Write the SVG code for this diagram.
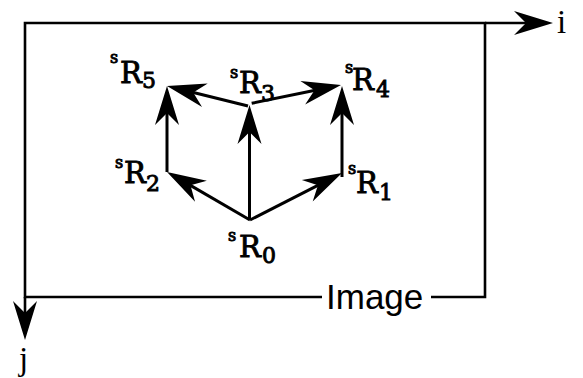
<svg xmlns="http://www.w3.org/2000/svg" xmlns:xlink="http://www.w3.org/1999/xlink" width="583" height="378" viewBox="0 0 583 378">
<style>
  .fr { stroke: #000; stroke-width: 2.6; fill: none; }
  .ln { stroke: #000; stroke-width: 3; fill: none; }
  .hd { fill: #000; stroke: none; }
  .lab { font-family: "DejaVu Serif", "Liberation Serif", serif; fill: #000; stroke: #000; stroke-width: 0.9; }
  .s { font-size: 16px; }
  .R { font-size: 29px; }
  .d { font-size: 22px; }
  .axis { font-family: "Liberation Serif", serif; font-size: 33px; fill: #000; }
  .img { font-family: "Liberation Sans", Arial, sans-serif; font-size: 35px; fill: #000; }
</style>
<defs>
  <path id="head" d="M0,0 L-39,-12 L-27,0 L-39,12 Z"/>
</defs>

<g id="frame">
  <path class="fr" d="M322,297 L25,297 L25,23 L485,23 L485,297 L431,297"/>
  <text class="img" x="326" y="309">Image</text>
</g>

<g id="axes">
  <line class="fr" x1="485" y1="23" x2="530" y2="23"/>
  <use xlink:href="#head" href="#head" class="hd" transform="translate(553,23)"/>
  <line class="fr" x1="25" y1="297" x2="25" y2="318"/>
  <use xlink:href="#head" href="#head" class="hd" transform="translate(25,340) rotate(90)"/>
  <text id="axis-i" class="axis" x="557" y="33">i</text>
  <text id="axis-j" class="axis" x="19" y="370">j</text>
</g>

<g id="connectors">
  <line class="ln" x1="250" y1="220" x2="184.4" y2="181.9"/>
  <use xlink:href="#head" href="#head" class="hd" transform="translate(167,172) rotate(209.5)"/>
  <line class="ln" x1="249.5" y1="220" x2="249.5" y2="125"/>
  <use xlink:href="#head" href="#head" class="hd" transform="translate(249.5,105) rotate(-90)"/>
  <line class="ln" x1="250" y1="220" x2="324.2" y2="182.1"/>
  <use xlink:href="#head" href="#head" class="hd" transform="translate(342,173) rotate(-27)"/>
  <line class="ln" x1="167" y1="172" x2="167" y2="106"/>
  <use xlink:href="#head" href="#head" class="hd" transform="translate(167,86) rotate(-90)"/>
  <line class="ln" x1="248" y1="106" x2="186.4" y2="90.7"/>
  <use xlink:href="#head" href="#head" class="hd" transform="translate(167,86) rotate(193.7)"/>
  <line class="ln" x1="251.7" y1="103.3" x2="321.4" y2="89"/>
  <use xlink:href="#head" href="#head" class="hd" transform="translate(341,85) rotate(-11.4)"/>
  <line class="ln" x1="342" y1="177" x2="342" y2="106"/>
  <use xlink:href="#head" href="#head" class="hd" transform="translate(342,86) rotate(-90)"/>
</g>

<g id="R0"><text class="lab"><tspan class="s" x="228" y="241">s</tspan><tspan class="R" x="239" y="257">R</tspan><tspan class="d" x="262" y="263">0</tspan></text></g>
<g id="R1"><text class="lab"><tspan class="s" x="348" y="174">s</tspan><tspan class="R" x="356" y="193">R</tspan><tspan class="d" x="379" y="200">1</tspan></text></g>
<g id="R2"><text class="lab"><tspan class="s" x="115" y="168">s</tspan><tspan class="R" x="124" y="183">R</tspan><tspan class="d" x="146" y="191">2</tspan></text></g>
<g id="R3"><text class="lab"><tspan class="s" x="230" y="78">s</tspan><tspan class="R" x="239" y="93">R</tspan><tspan class="d" x="261" y="101">3</tspan></text></g>
<g id="R4"><text class="lab"><tspan class="s" x="345" y="73">s</tspan><tspan class="R" x="352" y="90">R</tspan><tspan class="d" x="376" y="97">4</tspan></text></g>
<g id="R5"><text class="lab"><tspan class="s" x="110" y="63">s</tspan><tspan class="R" x="120" y="83">R</tspan><tspan class="d" x="142" y="88">5</tspan></text></g>
</svg>
